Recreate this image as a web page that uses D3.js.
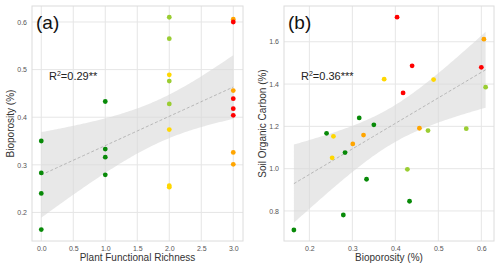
<!DOCTYPE html>
<html>
<head>
<meta charset="utf-8">
<script src="https://cdn.jsdelivr.net/npm/d3@7"></script>
<style>
  html, body { margin: 0; padding: 0; background: #fff; }
  svg { display: block; font-family: "Liberation Sans", Arial, sans-serif; }
</style>
</head>
<body>
<svg id="chart" width="500" height="268"></svg>
<script>
// one entry per sample, same order in every array
const richness = [0, 0, 0, 0, 1, 1, 1, 1, 2, 2, 2, 2, 2, 2, 2, 2, 3, 3, 3, 3, 3, 3, 3, 3];
const bioporosity = [0.350, 0.283, 0.240, 0.164, 0.433, 0.333, 0.316, 0.279,
  0.610, 0.565, 0.476, 0.428, 0.489, 0.374, 0.256, 0.253,
  0.606, 0.456, 0.326, 0.301, 0.600, 0.439, 0.418, 0.404];
const soc = [1.207, 1.076, 1.167, 0.710, 0.846, 0.950, 1.240, 0.781,
  1.385, 1.189, 1.180, 0.997, 1.421, 1.423, 1.153, 1.051,
  1.612, 1.191, 1.159, 1.117, 1.479, 1.486, 1.358, 1.716];
const group = ['green', 'green', 'green', 'green', 'green', 'green', 'green', 'green',
  'yellowgreen', 'yellowgreen', 'yellowgreen', 'yellowgreen', 'gold', 'gold', 'gold', 'gold',
  'orange', 'orange', 'orange', 'orange', 'red', 'red', 'red', 'red'];

const xTicksA = [0, 0.5, 1, 1.5, 2, 2.5, 3];
const yTicksA = [0.2, 0.3, 0.4, 0.5, 0.6];
const xTicksB = [0.2, 0.3, 0.4, 0.5, 0.6];
const yTicksB = [0.8, 1.0, 1.2, 1.4, 1.6];

const colors = { green: '#088a08', yellowgreen: '#9acd32', gold: '#ffd700', orange: '#ffa500', red: '#ff0000' };

const svg = d3.select('#chart');

// simple least squares fit with a 95% band
function fit(xs, ys) {
  const n = xs.length;
  const mx = d3.mean(xs), my = d3.mean(ys);
  let sxx = 0, sxy = 0;
  xs.forEach((x, i) => { sxx += (x - mx) ** 2; sxy += (x - mx) * (ys[i] - my); });
  const b = sxy / sxx, a = my - b * mx;
  let sse = 0;
  xs.forEach((x, i) => { sse += (ys[i] - a - b * x) ** 2; });
  const df = n - 2;
  const s = Math.sqrt(sse / df);
  const z = 1.959964;
  const t = z + (z ** 3 + z) / (4 * df) + (5 * z ** 5 + 16 * z ** 3 + 3 * z) / (96 * df * df);
  const [x0, x1] = d3.extent(xs);
  const band = d3.range(0, 101).map(k => {
    const x = x0 + (x1 - x0) * k / 100;
    const yh = a + b * x;
    const h = t * s * Math.sqrt(1 / n + (x - mx) ** 2 / sxx);
    return { x, y: yh, lo: yh - h, hi: yh + h };
  });
  return band;
}

function panel(opt) {
  const g = svg.append('g');
  const x = d3.scaleLinear().domain(opt.xDomain).range([opt.left, opt.right]);
  const y = d3.scaleLinear().domain(opt.yDomain).range([opt.bottom, opt.top]);

  g.selectAll('.gx').data(opt.xTicks).enter().append('line')
    .attr('x1', d => x(d)).attr('x2', d => x(d))
    .attr('y1', opt.top).attr('y2', opt.bottom)
    .attr('stroke', '#e6e6e6').attr('stroke-width', 1);
  g.selectAll('.gy').data(opt.yTicks).enter().append('line')
    .attr('y1', d => y(d)).attr('y2', d => y(d))
    .attr('x1', opt.left).attr('x2', opt.right)
    .attr('stroke', '#e6e6e6').attr('stroke-width', 1);

  g.append('rect')
    .attr('x', opt.left).attr('y', opt.top)
    .attr('width', opt.right - opt.left).attr('height', opt.bottom - opt.top)
    .attr('fill', 'none').attr('stroke', '#dcdcdc').attr('stroke-width', 1);

  const band = fit(opt.xs, opt.ys);
  g.append('path').datum(band)
    .attr('d', d3.area().x(d => x(d.x)).y0(d => y(d.lo)).y1(d => y(d.hi)))
    .attr('fill', '#d9d9d9').attr('fill-opacity', 0.6);
  g.append('path').datum(band)
    .attr('d', d3.line().x(d => x(d.x)).y(d => y(d.y)))
    .attr('fill', 'none').attr('stroke', '#a8a8a8').attr('stroke-width', 0.8)
    .attr('stroke-dasharray', '3,2');

  g.selectAll('.pt').data(opt.xs.map((v, i) => i)).enter().append('circle')
    .attr('cx', i => x(opt.xs[i])).attr('cy', i => y(opt.ys[i]))
    .attr('r', 2.4).attr('fill', i => colors[group[i]]);

  const ax = d3.axisBottom(x).tickValues(opt.xTicks).tickFormat(d3.format('.1f')).tickSize(0).tickPadding(5);
  const ay = d3.axisLeft(y).tickValues(opt.yTicks).tickFormat(d3.format('.1f')).tickSize(0).tickPadding(5);
  const gx = g.append('g').attr('transform', `translate(0,${opt.bottom})`).call(ax);
  const gy = g.append('g').attr('transform', `translate(${opt.left},0)`).call(ay);
  [gx, gy].forEach(a => {
    a.select('.domain').remove();
    a.selectAll('text').attr('fill', '#555').style('font-size', '7px')
      .style('font-family', '"Liberation Sans", Arial, sans-serif');
  });

  g.append('text')
    .attr('x', (opt.left + opt.right) / 2).attr('y', 261)
    .attr('text-anchor', 'middle').attr('fill', '#333').style('font-size', '10px')
    .text(opt.xLabel);
  g.append('text')
    .attr('transform', `translate(${opt.left - 18},${(opt.top + opt.bottom) / 2}) rotate(-90)`)
    .attr('text-anchor', 'middle').attr('fill', '#333').style('font-size', '10px')
    .text(opt.yLabel);

  g.append('text')
    .attr('x', opt.left + 4).attr('y', 29)
    .attr('fill', '#111').style('font-size', '19px')
    .text(opt.tag);

  const r = g.append('text')
    .attr('x', opt.left + 17).attr('y', 80)
    .attr('fill', '#222').style('font-size', '11px');
  r.append('tspan').text('R');
  r.append('tspan').attr('dy', -4).style('font-size', '7px').text('2');
  r.append('tspan').attr('dy', 4).text(opt.r2);
}

panel({
  left: 32, right: 243, top: 6, bottom: 241,
  xDomain: [-0.145, 3.152], yDomain: [0.140, 0.6336],
  xTicks: xTicksA, yTicks: yTicksA,
  xs: richness, ys: bioporosity,
  xLabel: 'Plant Functional Richness', yLabel: 'Bioporosity (%)',
  tag: '(a)', r2: '=0.29**'
});

panel({
  left: 284, right: 494, top: 6, bottom: 241,
  xDomain: [0.141, 0.6295], yDomain: [0.658, 1.769],
  xTicks: xTicksB, yTicks: yTicksB,
  xs: bioporosity, ys: soc,
  xLabel: 'Bioporosity (%)', yLabel: 'Soil Organic Carbon (%)',
  tag: '(b)', r2: '=0.36***'
});
</script>
</body>
</html>
